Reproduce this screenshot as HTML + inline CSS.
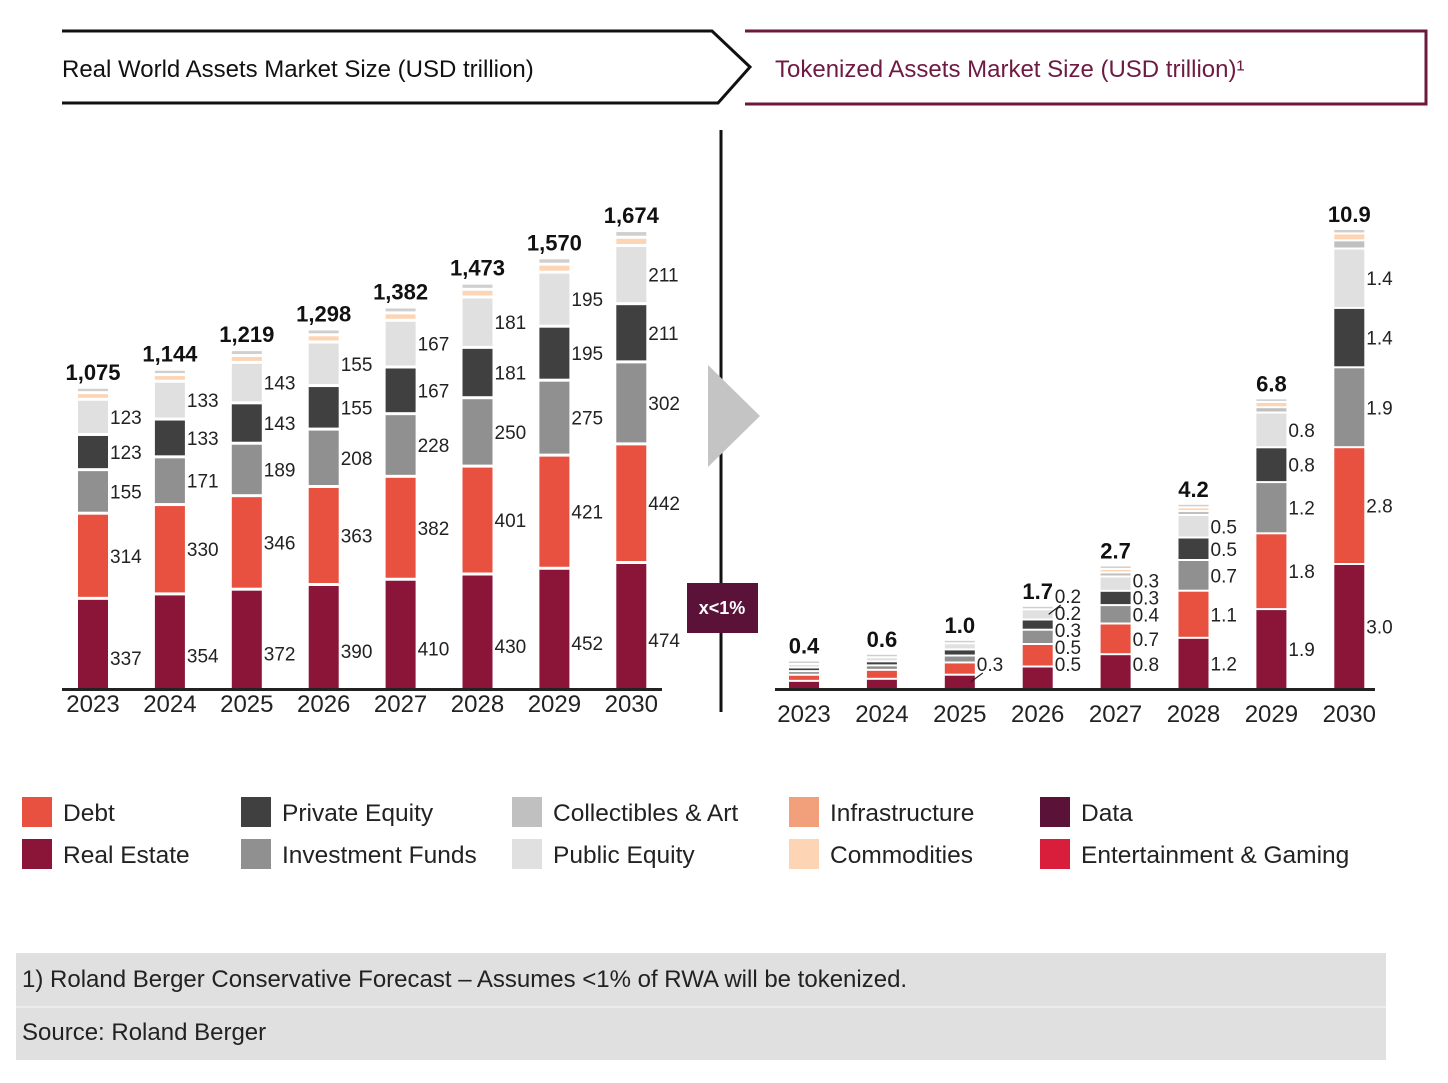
<!DOCTYPE html>
<html><head><meta charset="utf-8">
<style>
body{margin:0;background:#fff;width:1448px;height:1078px;overflow:hidden;font-family:"Liberation Sans",sans-serif;}
svg text{font-family:"Liberation Sans",sans-serif;}
</style></head>
<body>
<svg id="chart" width="1448" height="1078" viewBox="0 0 1448 1078" xmlns="http://www.w3.org/2000/svg">
  <g>
    <polyline points="62,31 712,31 750,67 718,103 62,103" fill="none" stroke="#111" stroke-width="3"/>
    <text x="62" y="77" font-size="24" fill="#111">Real World Assets Market Size (USD trillion)</text>
  </g>
  <g>
    <polyline points="745,31 1426,31 1426,104 745,104" fill="none" stroke="#6b1a3d" stroke-width="3"/>
    <text x="775" y="77" font-size="24" fill="#6e1a42">Tokenized Assets Market Size (USD trillion)¹</text>
  </g>
  <line x1="721" y1="130" x2="721" y2="712" stroke="#111" stroke-width="3"/>
  <polygon points="708,365 760,416 708,467" fill="#c4c4c4"/>
  <g>
    <rect x="687" y="583" width="71" height="50" fill="#5a1238"/>
    <text x="722" y="614" font-size="18" font-weight="bold" fill="#fff" text-anchor="middle">x&lt;1%</text>
  </g>
  <g id="left"></g>
  <g id="right"></g>
  <g id="legend"></g>
  <g>
    <rect x="16" y="953" width="1370" height="107" fill="#e0e0e0"/>
    <line x1="16" y1="1007" x2="1386" y2="1007" stroke="#ececec" stroke-width="2"/>
    <text x="22" y="987" font-size="24" fill="#222">1) Roland Berger Conservative Forecast – Assumes &lt;1% of RWA will be tokenized.</text>
    <text x="22" y="1040" font-size="24" fill="#222">Source: Roland Berger</text>
  </g>
</svg>
<script>
const years = ["2023","2024","2025","2026","2027","2028","2029","2030"];
// Left: RWA (USD trillion)
const rwaRealEstate = [337,354,372,390,410,430,452,474];
const rwaDebt = [314,330,346,363,382,401,421,442];
const rwaInvFunds = [155,171,189,208,228,250,275,302];
const rwaPrivEq = [123,133,143,155,167,181,195,211];
const rwaPubEq = [123,133,143,155,167,181,195,211];
const rwaCommod = [14,14,15,16,17,18,19,20];
const rwaCollect = [9,9,11,11,11,12,13,14];
const rwaTotals = ["1,075","1,144","1,219","1,298","1,382","1,473","1,570","1,674"];
// Right: tokenized (USD trillion)
const tokRealEstate = [0.15,0.2,0.3,0.5,0.8,1.2,1.9,3.0];
const tokDebt = [0.1,0.17,0.25,0.5,0.7,1.1,1.8,2.8];
const tokInvFunds = [0.04,0.06,0.12,0.3,0.4,0.7,1.2,1.9];
const tokPrivEq = [0.04,0.05,0.1,0.2,0.3,0.5,0.8,1.4];
const tokPubEq = [0.03,0.05,0.1,0.2,0.3,0.5,0.8,1.4];
const tokCollect = [0.0,0.0,0.0,0.0,0.05,0.05,0.08,0.15];
const tokCommod = [0.0,0.0,0.0,0.0,0.03,0.04,0.08,0.12];
const tokOther = [0.02,0.03,0.03,0.03,0.03,0.03,0.04,0.06];
const tokTotals = ["0.4","0.6","1.0","1.7","2.7","4.2","6.8","10.9"];
const tokLabRE = [null,null,"0.3","0.5","0.8","1.2","1.9","3.0"];
const tokLabDebt = [null,null,null,"0.5","0.7","1.1","1.8","2.8"];
const tokLabIF = [null,null,null,"0.3","0.4","0.7","1.2","1.9"];
const tokLabPE = [null,null,null,"0.2","0.3","0.5","0.8","1.4"];
const tokLabPub = [null,null,null,"0.2","0.3","0.5","0.8","1.4"];

const C = {re:"#8a1538",debt:"#e8503f",inv:"#909090",pe:"#404040",pub:"#e0e0e0",col:"#c0c0c0",infra:"#f2a07b",com:"#fdd5b4",data:"#5a1238",ent:"#d81e3a",oth:"#cfcfcf"};
const NS="http://www.w3.org/2000/svg";
function mk(tag,attrs,parent){const e=document.createElementNS(NS,tag);for(const k in attrs)e.setAttribute(k,attrs[k]);parent.appendChild(e);return e;}

function drawChart(gid,cfg){
  const g=document.getElementById(gid);
  const x=i=>cfg.x0+i*cfg.step;
  const ax=mk('line',{x1:cfg.ax1,x2:cfg.ax2,y1:cfg.base+1.5,y2:cfg.base+1.5,stroke:'#222','stroke-width':3},g);
  
  
  years.forEach((yr,i)=>{
    let top=cfg.base;
    let lastLab=cfg.base-cfg.labMin+17;
    cfg.series.forEach(s=>{
      const v=s.vals[i];
      if(v<=0)return;
      const h=Math.max(v*cfg.scale,1.5);
      const r=mk('rect',{x:x(i),y:top-h,width:30,height:h,fill:s.color},g);
      
      
      if(s.labels&&s.labels[i]!=null){
        const nat=top-h/2+7+(s.dy||0);
        const ly=Math.min(nat,lastLab-17);
        lastLab=ly;
        const t=mk('text',{x:x(i)+32,y:ly,'font-size':19,fill:'#222'},g);
        t.textContent=s.labels[i];
        
        
        if(nat-ly>15){
          const ld=mk('line',{x1:x(i)+26,y1:nat-7,x2:x(i)+38,y2:ly+2,stroke:'#222','stroke-width':1.2},g);
          
          
        }
      }
      top=top-h-cfg.gap;
    });
    const tt=mk('text',{x:x(i)+15,y:top-6,'font-size':22,'font-weight':'bold','text-anchor':'middle',fill:'#111'},g);
    tt.textContent=cfg.totals[i];
    
    
    const yl=mk('text',{x:x(i)+15,y:cfg.base+cfg.yearDy,'font-size':24,'text-anchor':'middle',fill:'#222'},g);
    yl.textContent=yr;
    
    
  });
}
drawChart('left',{x0:78,step:76.9,base:688,scale:0.2616,gap:3,ax1:62,ax2:662,yearDy:24,labMin:20,totals:rwaTotals,series:[
  {key:'real-estate',vals:rwaRealEstate,color:C.re,labels:rwaRealEstate,dy:14},
  {key:'debt',vals:rwaDebt,color:C.debt,labels:rwaDebt},
  {key:'investment-funds',vals:rwaInvFunds,color:C.inv,labels:rwaInvFunds},
  {key:'private-equity',vals:rwaPrivEq,color:C.pe,labels:rwaPrivEq},
  {key:'public-equity',vals:rwaPubEq,color:C.pub,labels:rwaPubEq},
  {key:'commodities',vals:rwaCommod,color:C.com},
  {key:'collectibles',vals:rwaCollect,color:C.oth}
]});
drawChart('right',{x0:789,step:77.9,base:688,scale:41,gap:2,ax1:775,ax2:1375,yearDy:34,labMin:17,totals:tokTotals,series:[
  {key:'real-estate',vals:tokRealEstate,color:C.re,labels:tokLabRE},
  {key:'debt',vals:tokDebt,color:C.debt,labels:tokLabDebt},
  {key:'investment-funds',vals:tokInvFunds,color:C.inv,labels:tokLabIF},
  {key:'private-equity',vals:tokPrivEq,color:C.pe,labels:tokLabPE},
  {key:'public-equity',vals:tokPubEq,color:C.pub,labels:tokLabPub},
  {key:'collectibles',vals:tokCollect,color:C.col},
  {key:'commodities',vals:tokCommod,color:C.com},
  {key:'other',vals:tokOther,color:C.oth}
]});

const legNames=["Debt","Real Estate","Private Equity","Investment Funds","Collectibles & Art","Public Equity","Infrastructure","Commodities","Data","Entertainment & Gaming"];
const legColors=[C.debt,C.re,C.pe,C.inv,C.col,C.pub,C.infra,C.com,C.data,C.ent];
const legCols=[17,236,507,784,1035];
const lg=document.getElementById('legend');
legNames.forEach((n,i)=>{
  const cx=legCols[Math.floor(i/2)], cy=797+(i%2)*42;
  const gg=mk('g',{},lg);
  
  
  mk('rect',{x:cx+5,y:cy,width:30,height:30,fill:legColors[i]},gg);
  const t=mk('text',{x:cx+46,y:cy+24,'font-size':24.5,fill:'#222'},gg);
  t.textContent=n;
});
</script>
</body></html>
